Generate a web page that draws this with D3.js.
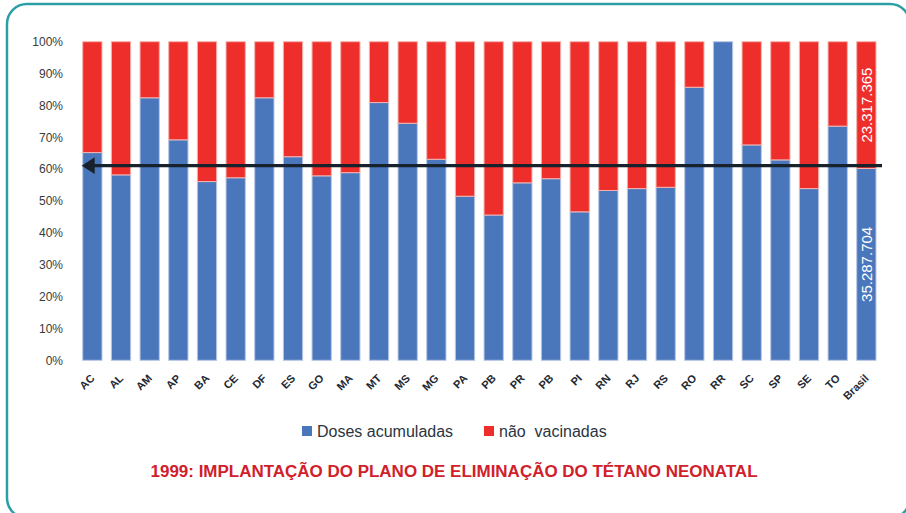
<!DOCTYPE html>
<html>
<head>
<meta charset="utf-8">
<script src="https://cdn.jsdelivr.net/npm/d3@7"></script>
<style>
  body { margin: 0; background: #ffffff; }
  svg { display: block; }
  text { font-family: "Liberation Sans", Arial, sans-serif; }
</style>
</head>
<body>
<svg id="chart" width="906" height="513"></svg>
<script>
// Unidades federativas e total nacional
const regions = ["AC","AL","AM","AP","BA","CE","DF","ES","GO","MA","MT","MS","MG","PA",
                 "PB","PR","PB","PI","RN","RJ","RS","RO","RR","SC","SP","SE","TO","Brasil"];

// Cobertura de doses acumuladas por UF (%)
const dosesPct = [65.2, 58.2, 82.4, 69.2, 56.1, 57.3, 82.4, 63.9, 57.9, 58.9, 80.9, 74.4, 63.1, 51.5,
                  45.6, 55.7, 57.0, 46.6, 53.3, 53.9, 54.3, 85.7, 100.0, 67.6, 62.9, 53.9, 73.5];

// Totais nacionais (mulheres em idade fértil)
const brasilDoses = 35287704;
const brasilNaoVacinadas = 23317365;

// Nível de referência indicado pela seta
const referenceLevel = 61.1;

const yTicks = [0, 10, 20, 30, 40, 50, 60, 70, 80, 90, 100];
const seriesNames = ["Doses acumuladas", "não  vacinadas"];
const seriesColors = ["#4a77bc", "#ee2e2a"];
const titleText = "1999: IMPLANTAÇÃO DO PLANO DE ELIMINAÇÃO DO TÉTANO NEONATAL";

const brasilPct = 100 * brasilDoses / (brasilDoses + brasilNaoVacinadas);
const rows = regions.map((r, i) => {
  const d = i < dosesPct.length ? dosesPct[i] : brasilPct;
  return { key: i, name: r, doses: d, nao: 100 - d };
});

const svg = d3.select("#chart");

// Moldura arredondada
svg.append("rect")
  .attr("x", 7).attr("y", 4)
  .attr("width", 903).attr("height", 514)
  .attr("rx", 20).attr("ry", 20)
  .attr("fill", "#ffffff")
  .attr("stroke", "#2c9ea6")
  .attr("stroke-width", 2.5);

const x = d3.scaleBand()
  .domain(rows.map(d => d.key))
  .range([82.7, 876])
  .paddingInner(0.327)
  .paddingOuter(0);

const y = d3.scaleLinear().domain([0, 100]).range([360.3, 41.7]);

// Eixo Y (somente rótulos)
const yAxis = d3.axisLeft(y)
  .tickValues(yTicks)
  .tickFormat(d => d + "%")
  .tickSize(0)
  .tickPadding(0);
const gy = svg.append("g").attr("transform", "translate(63,0)").call(yAxis);
gy.select(".domain").remove();
gy.selectAll("text")
  .attr("font-size", 12)
  .attr("fill", "#3a3a3a")
  .style("font-family", "'Liberation Sans', Arial, sans-serif");

// Barras empilhadas
const stack = d3.stack().keys(["doses", "nao"]);
const layers = stack(rows);

const gBars = svg.append("g");
gBars.selectAll("g.layer")
  .data(layers)
  .join("g")
  .attr("class", "layer")
  .attr("fill", (d, i) => seriesColors[i])
  .attr("stroke", (d, i) => i === 0 ? "#b9c7e6" : "#f6b3ae")
  .attr("stroke-width", 1)
  .selectAll("rect")
  .data(d => d)
  .join("rect")
  .attr("x", d => x(d.data.key))
  .attr("width", x.bandwidth())
  .attr("y", d => y(d[1]))
  .attr("height", d => Math.max(0, y(d[0]) - y(d[1])));

// Rótulos de valor na barra Brasil
const ptBR = d3.formatLocale({ decimal: ",", thousands: ".", grouping: [3], currency: ["R$", ""] });
const fmt = ptBR.format(",d");
const brasilRow = rows[rows.length - 1];
const cx = x(brasilRow.key) + x.bandwidth() / 2;
const valueLabels = [
  { value: brasilDoses, y0: 0, y1: brasilRow.doses },
  { value: brasilNaoVacinadas, y0: brasilRow.doses, y1: 100 }
];
svg.append("g").selectAll("text")
  .data(valueLabels)
  .join("text")
  .attr("transform", d => `translate(${cx + 0.5},${(y(d.y0) + y(d.y1)) / 2}) rotate(-90)`)
  .attr("text-anchor", "middle")
  .attr("dominant-baseline", "central")
  .attr("font-size", 15)
  .attr("fill", "#ffffff")
  .text(d => fmt(d.value));

// Linha de referência com seta
const yRef = y(referenceLevel);
const xLeft = x(rows[0].key) - 1;
const xRight = x(brasilRow.key) + x.bandwidth() + 6;
svg.append("line")
  .attr("x1", xLeft + 10).attr("x2", xRight)
  .attr("y1", yRef).attr("y2", yRef)
  .attr("stroke", "#17222d")
  .attr("stroke-width", 3.2);
svg.append("path")
  .attr("d", `M${xLeft},${yRef} L${xLeft + 13},${yRef - 8.3} L${xLeft + 13},${yRef + 8.3} Z`)
  .attr("fill", "#17222d");

// Rótulos do eixo X
svg.append("g").selectAll("text")
  .data(rows)
  .join("text")
  .attr("transform", d => `translate(${x(d.key) + x.bandwidth() / 2 + 3},379) rotate(-45)`)
  .attr("text-anchor", "end")
  .attr("font-size", 11)
  .attr("font-weight", "bold")
  .attr("fill", "#1f2a33")
  .text(d => d.name);

// Legenda
const legendItems = [
  { name: seriesNames[0], color: seriesColors[0], x: 302 },
  { name: seriesNames[1], color: seriesColors[1], x: 484 }
];
const lg = svg.append("g").selectAll("g").data(legendItems).join("g")
  .attr("transform", d => `translate(${d.x},426)`);
lg.append("rect").attr("width", 10).attr("height", 10).attr("fill", d => d.color);
lg.append("text")
  .attr("x", 15).attr("y", 11)
  .attr("font-size", 16)
  .attr("fill", "#2b3540")
  .style("white-space", "pre")
  .text(d => d.name);

// Título
svg.append("text")
  .attr("x", 454).attr("y", 477)
  .attr("text-anchor", "middle")
  .attr("font-size", 16)
  .attr("font-weight", "bold")
  .attr("fill", "#d0202a")
  .attr("textLength", 607)
  .attr("lengthAdjust", "spacingAndGlyphs")
  .text(titleText);
</script>
</body>
</html>
